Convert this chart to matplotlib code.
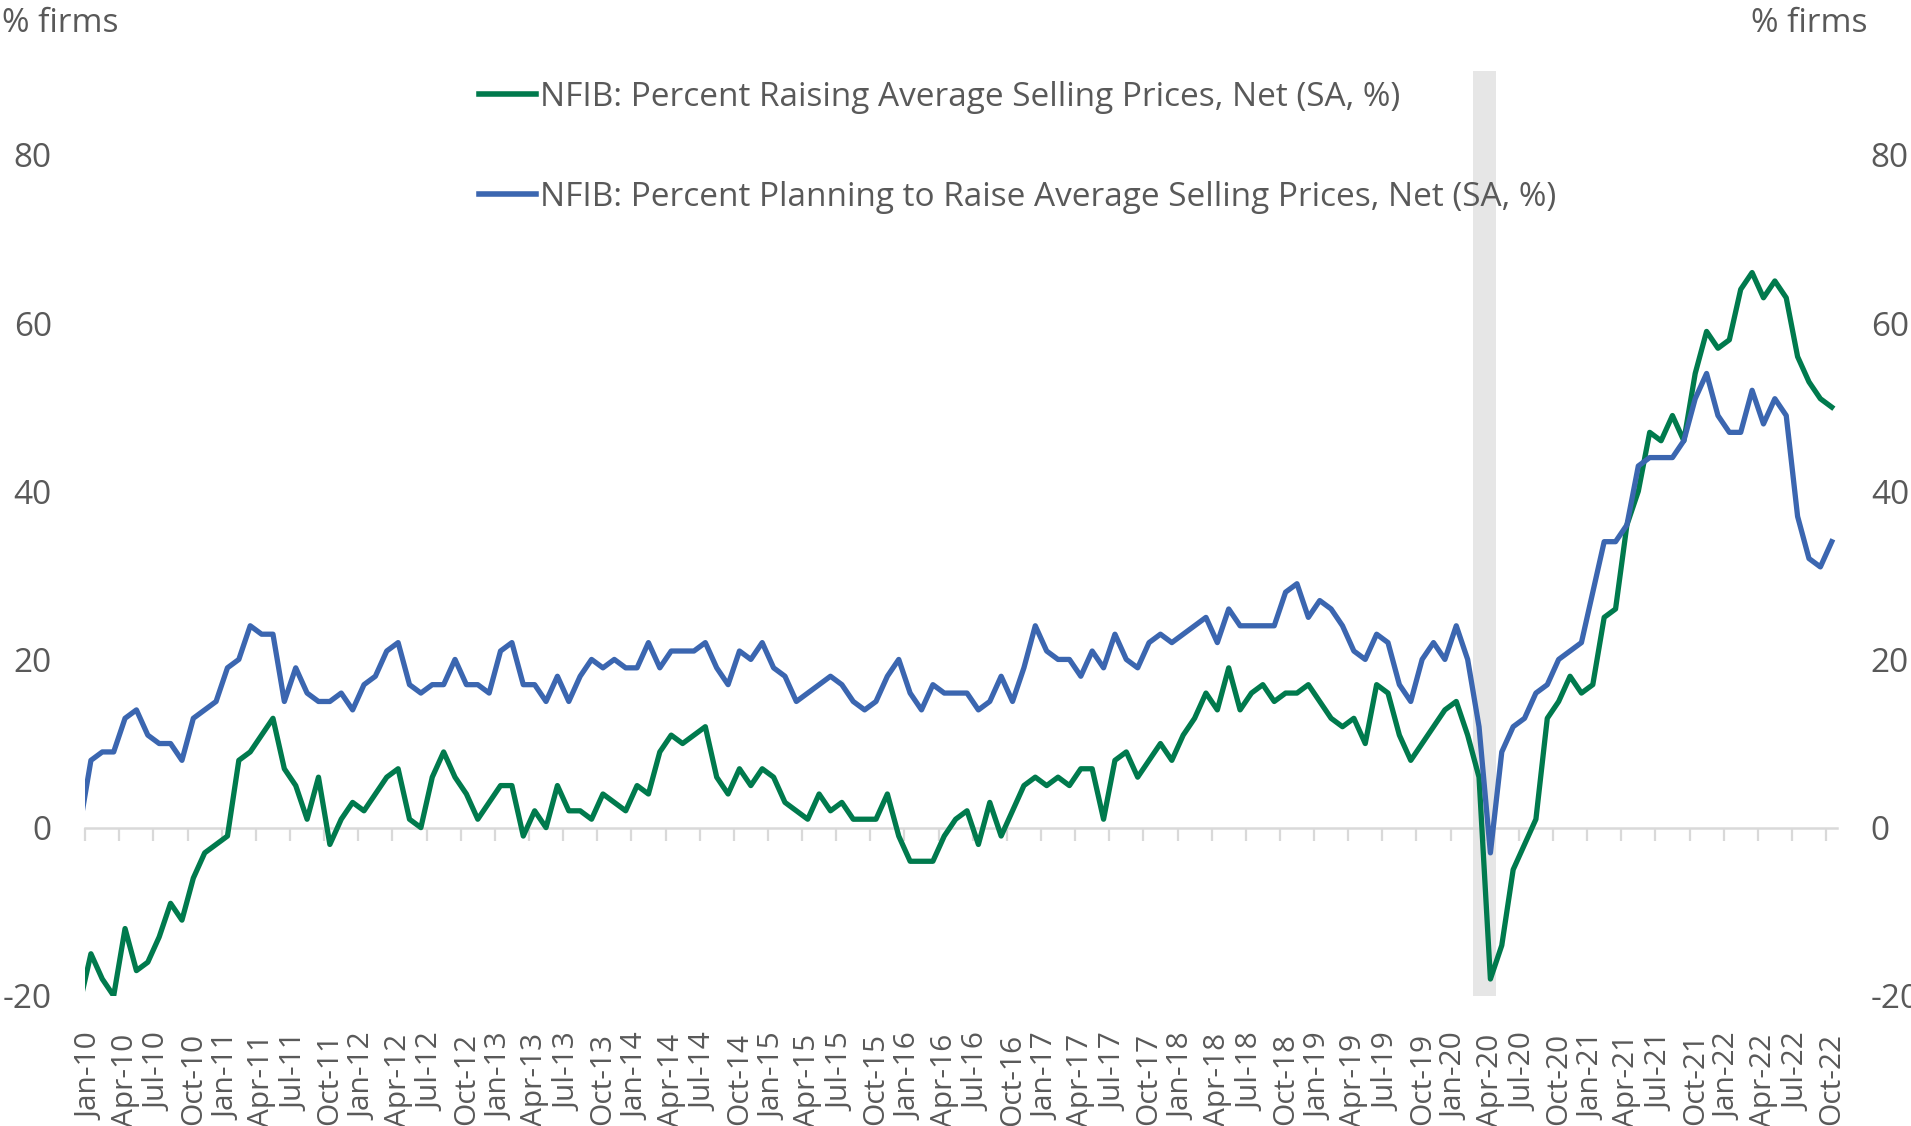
import numpy as np
import matplotlib.pyplot as plt
from matplotlib.lines import Line2D

plt.rcParams['font.family'] = ['Open Sans', 'DejaVu Sans']
plt.rcParams['axes.unicode_minus'] = False

# monthly series, Dec-09 .. Oct-22 (first point sits just left of the axis and gets clipped)
raising = [-21,
           -15, -18, -20, -12, -17, -16, -13, -9, -11, -6, -3, -2,
           -1, 8, 9, 11, 13, 7, 5, 1, 6, -2, 1, 3,
           2, 4, 6, 7, 1, 0, 6, 9, 6, 4, 1, 3,
           5, 5, -1, 2, 0, 5, 2, 2, 1, 4, 3, 2,
           5, 4, 9, 11, 10, 11, 12, 6, 4, 7, 5, 7,
           6, 3, 2, 1, 4, 2, 3, 1, 1, 1, 4, -1,
           -4, -4, -4, -1, 1, 2, -2, 3, -1, 2, 5, 6,
           5, 6, 5, 7, 7, 1, 8, 9, 6, 8, 10, 8,
           11, 13, 16, 14, 19, 14, 16, 17, 15, 16, 16, 17,
           15, 13, 12, 13, 10, 17, 16, 11, 8, 10, 12, 14,
           15, 11, 6, -18, -14, -5, -2, 1, 13, 15, 18, 16,
           17, 25, 26, 36, 40, 47, 46, 49, 46, 54, 59, 57,
           58, 64, 66, 63, 65, 63, 56, 53, 51, 50]

planning = [0,
            8, 9, 9, 13, 14, 11, 10, 10, 8, 13, 14, 15,
            19, 20, 24, 23, 23, 15, 19, 16, 15, 15, 16, 14,
            17, 18, 21, 22, 17, 16, 17, 17, 20, 17, 17, 16,
            21, 22, 17, 17, 15, 18, 15, 18, 20, 19, 20, 19,
            19, 22, 19, 21, 21, 21, 22, 19, 17, 21, 20, 22,
            19, 18, 15, 16, 17, 18, 17, 15, 14, 15, 18, 20,
            16, 14, 17, 16, 16, 16, 14, 15, 18, 15, 19, 24,
            21, 20, 20, 18, 21, 19, 23, 20, 19, 22, 23, 22,
            23, 24, 25, 22, 26, 24, 24, 24, 24, 28, 29, 25,
            27, 26, 24, 21, 20, 23, 22, 17, 15, 20, 22, 20,
            24, 20, 12, -3, 9, 12, 13, 16, 17, 20, 21, 22,
            28, 34, 34, 36, 43, 44, 44, 44, 46, 51, 54, 49,
            47, 47, 52, 48, 51, 49, 37, 32, 31, 34]

labels = [f"{m}-{y:02d}" for y in range(10, 23) for m in ("Jan", "Apr", "Jul", "Oct")]
recession = (122, 124)  # Mar-20 .. Apr-20, in months from Jan-10

name_raising = "NFIB: Percent Raising Average Selling Prices, Net (SA, %)"
name_planning = "NFIB: Percent Planning to Raise Average Selling Prices, Net (SA, %)"

green = '#007a4d'
blue = '#3b66b0'
grey_txt = '#595959'
grey_ax = '#d9d9d9'

fig = plt.figure(figsize=(19.11, 11.26), dpi=100)
ax = fig.add_axes([0.0446, 0.1156, 0.9169, 0.8216])

x = np.arange(len(raising)) - 1 + 0.5
ax.axvspan(*recession, color='#e6e6e6', lw=0, zorder=0)
ax.plot(x, raising, color=green, lw=3.8, solid_joinstyle='round', zorder=3)
ax.plot(x, planning, color=blue, lw=3.8, solid_joinstyle='round', zorder=4)

ax.set_xlim(0, 154)
ax.set_ylim(-20, 90)
ax.set_yticks([-20, 0, 20, 40, 60, 80])
ax.tick_params(axis='y', length=0, pad=24, labelsize=24, labelcolor=grey_txt,
               labelleft=True, labelright=True)

quarter = np.arange(len(labels)) * 3
ax.set_xticks(quarter + 0.5)
ax.set_xticklabels(labels, rotation=90)
ax.tick_params(axis='x', length=0, pad=27, labelsize=21.5, labelcolor=grey_txt)
for s in ax.spines.values():
    s.set_visible(False)

# zero line with quarterly tick marks
sec = ax.secondary_xaxis(0, transform=ax.transData)
sec.set_xticks(quarter)
sec.set_xticklabels([])
sec.tick_params(axis='x', length=9, width=1.6, color=grey_ax, direction='out')
sec.spines['bottom'].set_color(grey_ax)
sec.spines['bottom'].set_linewidth(1.8)
sec.set_zorder(1)

fig.text(0.001, 0.979, "% firms", fontsize=24, color=grey_txt, va='center', ha='left')
fig.text(0.9163, 0.979, "% firms", fontsize=24, color=grey_txt, va='center', ha='left')

handles = [Line2D([], [], color=green, lw=4), Line2D([], [], color=blue, lw=4)]
ax.legend(handles, [name_raising, name_planning], loc='upper left',
          bbox_to_anchor=(0.2507, 0.928), bbox_transform=fig.transFigure,
          frameon=False, fontsize=24, labelcolor=grey_txt, borderpad=0,
          borderaxespad=0, handlelength=1.7, handletextpad=0.12, labelspacing=2.0)

fig.savefig('out.png', dpi=100)
